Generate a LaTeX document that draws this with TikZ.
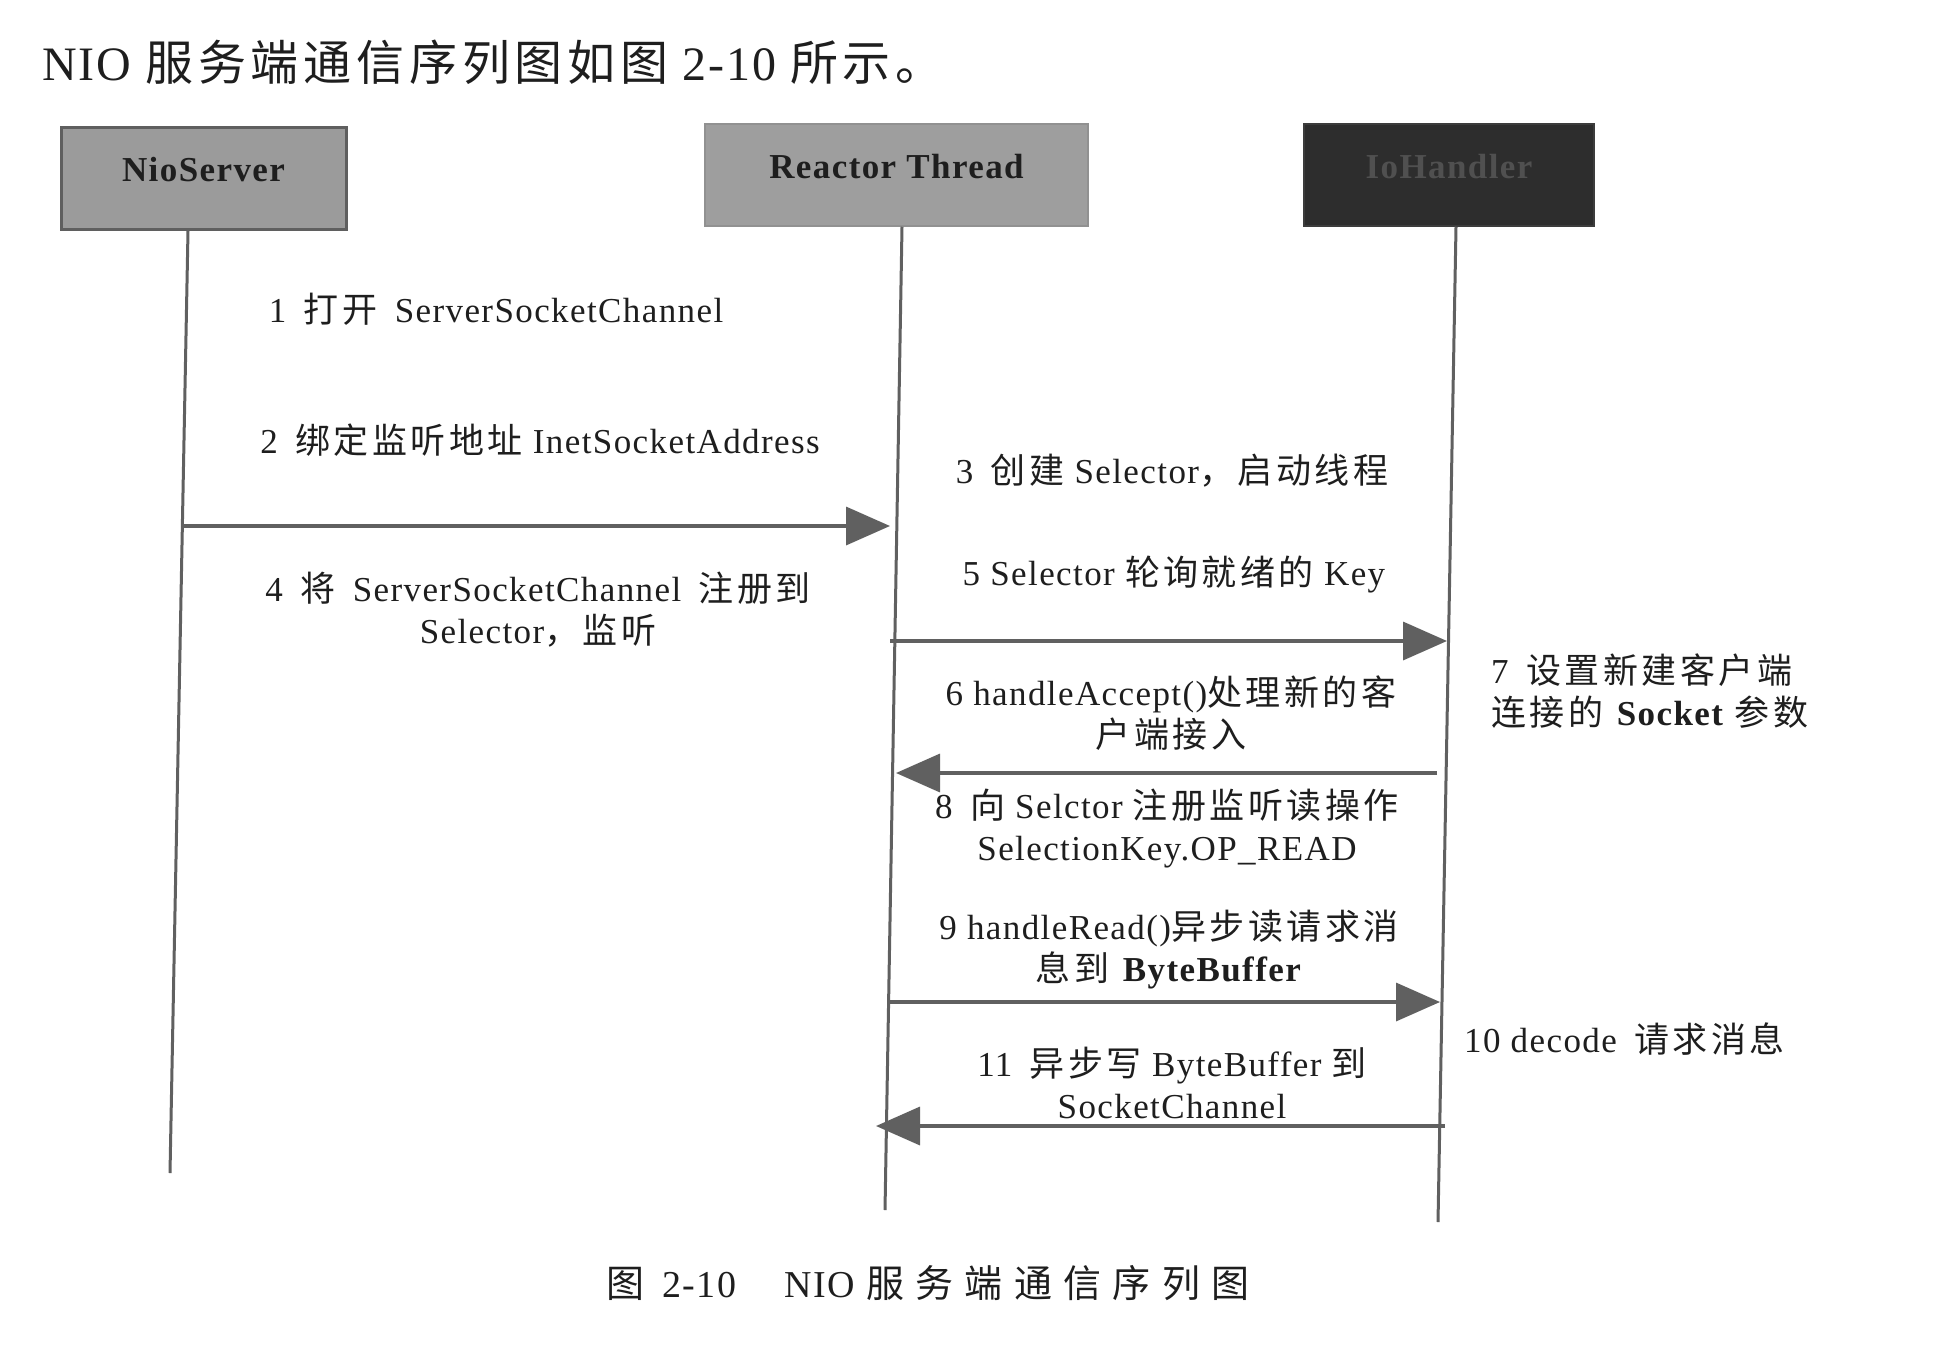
\documentclass[tikz,border=0pt]{standalone}
\usepackage{fontspec}
\setmainfont{Liberation Serif}[LetterSpace=4]
\newfontfamily\cjk{Noto Sans CJK SC}[LetterSpace=10]
\newfontfamily\cjkwide{Noto Sans CJK SC}[LetterSpace=30]
\usetikzlibrary{arrows.meta}
\newcommand\zh[1]{{\cjk #1}}
\newcommand\zhw[1]{{\cjkwide #1}}
\definecolor{linegray}{HTML}{606060}
\definecolor{txtgray}{HTML}{1E1E1E}
\begin{document}
\begin{tikzpicture}[x=1pt,y=-1pt,
  lbl/.style={font=\fontsize{35}{42}\selectfont, align=center, text=txtgray, inner sep=0pt},
  msg/.style={draw=linegray, line width=3.5pt, -{Triangle[length=44pt,width=38pt]}},
  life/.style={draw=linegray, line width=3pt},
  actor/.style={minimum height=102pt, font=\fontsize{35}{40}\selectfont\bfseries, text depth=18pt, inner sep=0pt}
]
\path[use as bounding box, fill=white] (0,0) rectangle (1940,1346);

% header
\node[anchor=west, inner sep=0pt, font=\fontsize{48}{52}\selectfont, text=txtgray] (hdr) at (42,62)
  {NIO \zh{服务端通信序列图如图} 2-10 \zh{所示。}};

% actors
\node[actor, minimum width=285pt, fill={rgb,255:red,155;green,155;blue,155}, draw={rgb,255:red,95;green,95;blue,95}, line width=3pt, text=txtgray] (ns) at (203.5,178.5) {NioServer};
\node[actor, minimum width=383pt, fill={rgb,255:red,158;green,158;blue,158}, draw={rgb,255:red,145;green,145;blue,145}, line width=1.5pt, text=txtgray] (rt) at (896.5,175) {Reactor Thread};
\node[actor, minimum width=290pt, fill={rgb,255:red,45;green,45;blue,45}, draw={rgb,255:red,60;green,60;blue,60}, line width=1.5pt, text={rgb,255:red,80;green,80;blue,80}] (io) at (1449,175) {IoHandler};

% lifelines
\coordinate (nsEnd) at (170,1173);
\coordinate (rtEnd) at (885,1210);
\coordinate (ioEnd) at (1438,1222);
\draw[life] ([xshift=-15.5pt]ns.south) -- (nsEnd);
\draw[life] ([xshift=5.5pt]rt.south) -- (rtEnd);
\draw[life] ([xshift=7pt]io.south) -- (ioEnd);

% message end points
\coordinate (m1s) at (183,526);  \coordinate (m1e) at (890,526);
\coordinate (m2s) at (890,641);  \coordinate (m2e) at (1447,641);
\coordinate (m3s) at (1437,773); \coordinate (m3e) at (896,773);
\coordinate (m4s) at (889,1002); \coordinate (m4e) at (1440,1002);
\coordinate (m5s) at (1445,1126);\coordinate (m5e) at (876,1126);

\draw[msg] (m1s) -- (m1e);
\draw[msg] (m2s) -- (m2e);
\draw[msg] (m3s) -- (m3e);
\draw[msg] (m4s) -- (m4e);
\draw[msg] (m5s) -- (m5e);

% labels
\node[lbl] (l1) at (496,309) {1\enspace \zh{打开}\enspace ServerSocketChannel};
\node[lbl] (l2) at (540,440) {2\enspace \zh{绑定监听地址} InetSocketAddress};
\node[lbl] (l3) at (1172,471) {3\enspace \zh{创建} Selector\zh{，启动线程}};
\node[lbl] (l4) at (538,610) {4\enspace \zh{将}\enspace ServerSocketChannel\enspace \zh{注册到}\\Selector\zh{，监听}};
\node[lbl] (l5) at (1174,575) {5 Selector \zh{轮询就绪的} Key};
\node[lbl] (l6) at (1171,713) {6 handleAccept()\zh{处理新的客}\\\zh{户端接入}};
\node[lbl, align=left, anchor=west] (l7) at (1491,691) {7\enspace \zh{设置新建客户端}\\\zh{连接的} \textbf{Socket} \zh{参数}};
\node[lbl] (l8) at (1167,828) {8\enspace \zh{向} Selctor \zh{注册监听读操作}\\SelectionKey.OP\_READ};
\node[lbl] (l9) at (1169,950) {9 handleRead()\zh{异步读请求消}\\\zh{息到} \textbf{ByteBuffer}};
\node[lbl, anchor=west] (l10) at (1464,1039) {10 decode\enspace \zh{请求消息}};
\node[lbl] (l11) at (1172,1083) {11\enspace \zh{异步写} ByteBuffer \zh{到}\\SocketChannel};

% caption
\node[lbl, font=\fontsize{38}{42}\selectfont] (cap) at (928,1283) {\zhw{图}\hspace{18pt}2-10\hspace{48pt}NIO \zhw{服务端通信序列图}};
\end{tikzpicture}
\end{document}
